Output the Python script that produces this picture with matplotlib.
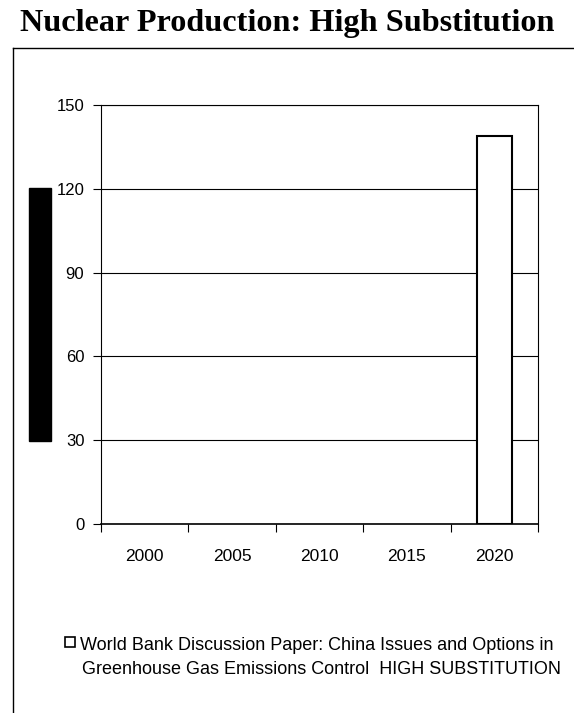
import numpy as np
import matplotlib
matplotlib.use("Agg")
import matplotlib.pyplot as plt
from matplotlib.patches import Rectangle
from matplotlib.lines import Line2D

# ================================= Dados =================================
anos = ['2000', '2005', '2010', '2015', '2020']
producao = [0, 0, 0, 0, 139]
y_ticks = [0, 30, 60, 90, 120, 150]
legenda_linhas = ['World Bank Discussion Paper: China Issues and Options in',
                  'Greenhouse Gas Emissions Control  HIGH SUBSTITUTION']

plt.rcParams['font.family'] = ['Liberation Sans', 'DejaVu Sans']

W, H = 574, 713
fig = plt.figure(figsize=(W / 100, H / 100), dpi=100)
ax = fig.add_axes([101/W, 1 - 524/H, 437/W, 419/H])

x = np.arange(len(anos))
bordas = ['black' if v > 0 else 'none' for v in producao]
barras = ax.bar(x, producao, width=0.4, color='white', edgecolor=bordas,
                linewidth=1.5, zorder=3)

ax.set_xlim(-0.5, len(anos) - 0.5)
ax.set_ylim(0, 150)
ax.set_yticks(y_ticks)
ax.set_yticklabels([str(v) for v in y_ticks], fontsize=12)
ax.grid(axis='y', color='black', linewidth=0.8)

# ticks nas fronteiras, rótulos no centro
ax.set_xticks(np.arange(-0.5, len(anos)), labels=[])
ax.set_xticks(x, labels=anos, minor=True)
ax.tick_params(axis='x', which='major', direction='out', length=6, width=0.8)
ax.tick_params(axis='x', which='minor', length=0, labelsize=12.5, pad=18)
ax.tick_params(axis='y', direction='out', length=6, width=0.8, pad=6)
for s in ax.spines.values():
    s.set_linewidth(0.8)
ax.spines['bottom'].set_linewidth(1.2)

# título
fig.text(0.5, 1 - 24/H, 'Nuclear Production: High Substitution',
         ha='center', va='center', fontsize=23.2, fontweight='bold',
         family='Liberation Serif')

# moldura externa
fig.add_artist(Line2D([13/W, 13/W], [0, 1 - 48/H], color='black', lw=1))
fig.add_artist(Line2D([13/W, 1], [1 - 48/H, 1 - 48/H], color='black', lw=1))

# bloco preto à esquerda
fig.add_artist(Rectangle((29/W, 1 - 441/H), 22/W, 253/H,
                         transform=fig.transFigure, color='black'))

# legenda (quadrado + duas linhas)
fig.add_artist(Rectangle((65/W, 1 - 647/H), 10/W, 10/H, transform=fig.transFigure,
                         facecolor='white', edgecolor='black', linewidth=1.2))
fig.text(80/W, 1 - 649.5/H, legenda_linhas[0], fontsize=13, va='baseline')
fig.text(82/W, 1 - 673.5/H, legenda_linhas[1], fontsize=13, va='baseline')

fig.savefig('out.png', dpi=100)
